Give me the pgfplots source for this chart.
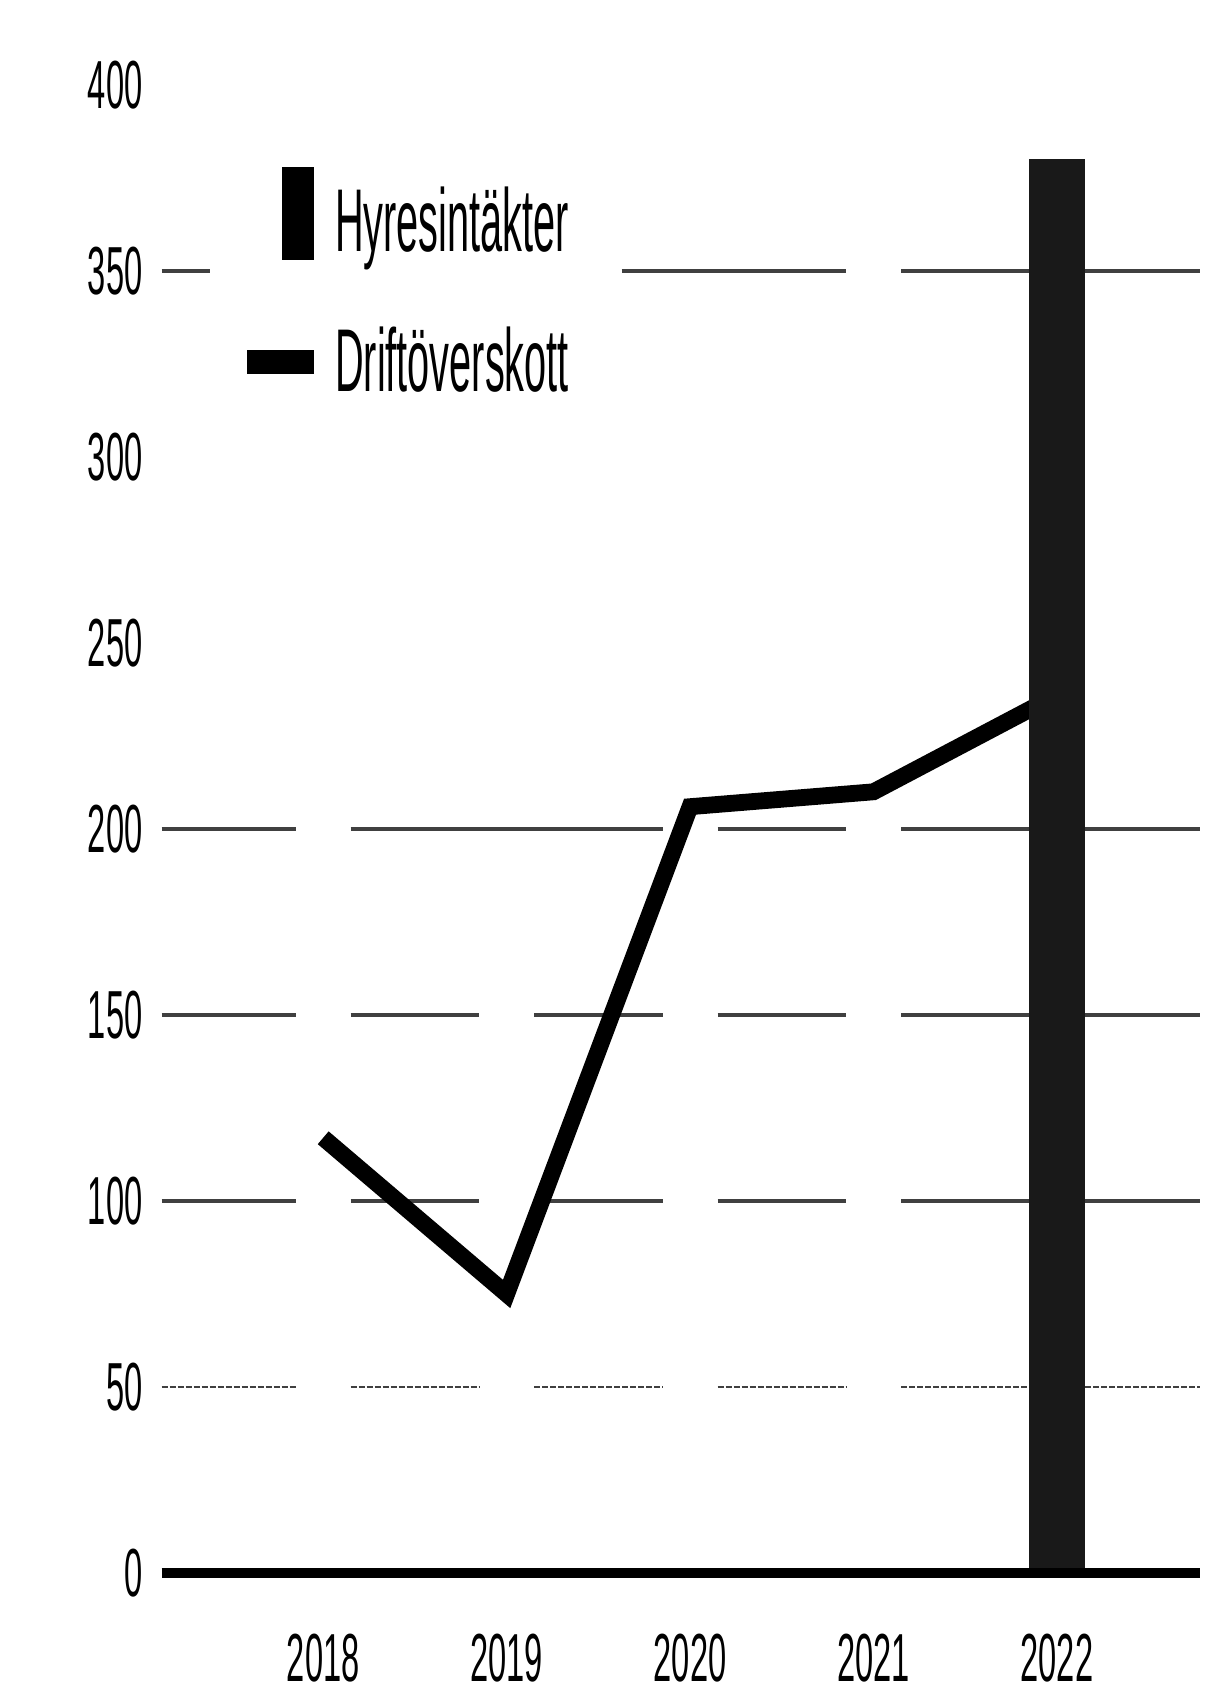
\documentclass[border=0pt]{standalone}
\usepackage{fontspec}
\usepackage{pgfplots}
\pgfplotsset{compat=1.18}

\newfontfamily\tickfont[FakeStretch=0.48]{Liberation Sans}
\newfontfamily\legfont[FakeStretch=0.445]{Liberation Sans}

\pgfplotsset{
  grid seg/.style={black!75, line width=0.8pt, forget plot},
}

\begin{document}
\begin{tikzpicture}
\begin{axis}[
    scale only axis,
    width=259.6pt, height=372pt,
    xmin=-0.881, xmax=4.78,
    ymin=0, ymax=400,
    clip=false,
    unbounded coords=jump,
    axis line style={draw=none},
    tick style={draw=none},
    ytick={0,50,...,400},
    xtick={0,1,2,3,4},
    xticklabels={2018,2019,2020,2021,2022},
    /pgf/number format/assume math mode=true,
    tick label style={font=\tickfont\fontsize{17}{17}\selectfont},
    yticklabel style={anchor=east, inner sep=0pt, xshift=-4.6pt},
    xticklabel style={anchor=north, inner sep=0pt, yshift=-15pt},
    legend cell align=left,
    legend style={
      at={(axis description cs:0.082,0.9449)}, anchor=north west,
      draw=none, fill=none, inner sep=0pt, outer sep=0pt,
      nodes={inner sep=0pt},
      font=\legfont\fontsize{22.3}{22.3}\selectfont,
      row sep=16.75pt, column sep=5.2pt,
    },
]
% legend entries
\addlegendimage{legend image code/.code={
    \fill[black] (8.8pt,-9.1pt) rectangle (16.5pt,13.65pt);
    \path[draw=none] (0pt,0pt) -- (16.5pt,0pt);}}
\addlegendentry{Hyresintäkter}
\addlegendimage{legend image code/.code={
    \fill[black] (0pt,-2.875pt) rectangle (16.5pt,2.875pt);}}
\addlegendentry{Driftöverskott}

% broken grid lines
\addplot[grid seg, line width=0.6pt, dash pattern=on 1.5pt off 0.5pt] coordinates {
  (-0.881,50) (-0.15,50) (0,nan) (0.15,50) (0.85,50) (1,nan) (1.15,50) (1.85,50)
  (2,nan) (2.15,50) (2.85,50) (3,nan) (3.15,50) (4.78,50)};
\addplot[grid seg] coordinates {
  (-0.881,100) (-0.15,100) (0,nan) (0.15,100) (0.85,100) (1,nan) (1.15,100) (1.85,100)
  (2,nan) (2.15,100) (2.85,100) (3,nan) (3.15,100) (4.78,100)};
\addplot[grid seg] coordinates {
  (-0.881,150) (-0.15,150) (0,nan) (0.15,150) (0.85,150) (1,nan) (1.15,150) (1.85,150)
  (2,nan) (2.15,150) (2.85,150) (3,nan) (3.15,150) (4.78,150)};
\addplot[grid seg] coordinates {
  (-0.881,200) (-0.15,200) (0,nan) (0.15,200) (1.85,200)
  (2,nan) (2.15,200) (2.85,200) (3,nan) (3.15,200) (4.78,200)};
\addplot[grid seg] coordinates {
  (-0.881,350) (-0.618,350) (0,nan) (1.627,350) (2.85,350)
  (3,nan) (3.15,350) (4.78,350)};

% Driftöverskott
\addplot[black, line width=4.2pt, line join=miter, forget plot] coordinates {
  (0,117) (1,75) (2,206) (3,210) (4,236)};

% Hyresintäkter
\addplot[ybar, bar width=14pt, bar shift=0pt, fill=black!90, draw=none, forget plot]
  coordinates {(4,380)};

% zero line
\addplot[black, line width=2.5pt, forget plot] coordinates {(-0.881,0) (4.78,0)};
\end{axis}
\pgfresetboundingbox
\path[use as bounding box] (-40.4pt,-27.5pt) rectangle (263.85pt,393.25pt);
\end{tikzpicture}
\end{document}
